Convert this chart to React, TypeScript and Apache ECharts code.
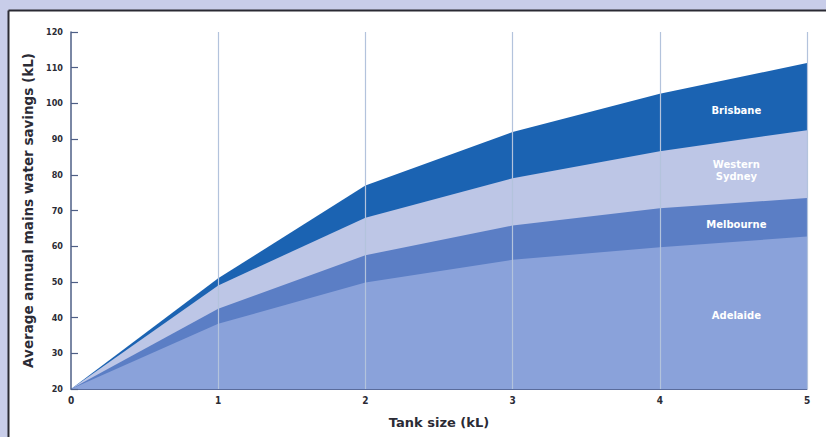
import React, { useEffect, useRef } from "react";
import * as echarts from "echarts";

const tankSizes = [0, 1, 2, 3, 4, 5];
const brisbane = [20, 51, 77, 92, 102.7, 111.3];
const westernSydney = [20, 49, 68, 79, 86.6, 92.5];
const melbourne = [20, 42.5, 57.5, 65.8, 70.6, 73.5];
const adelaide = [20, 38.3, 49.8, 56.2, 59.7, 62.7];
const yTicks = [20, 30, 40, 50, 60, 70, 80, 90, 100, 110, 120];

const seriesNames = ["Brisbane", "Western\nSydney", "Melbourne", "Adelaide"];
const seriesValues = [brisbane, westernSydney, melbourne, adelaide];
const seriesColors = ["#1b63b2", "#bdc6e6", "#5b7ec5", "#8aa2da"];
const labelPos = [4.52, 4.52, 4.52, 4.52];
const labelVal = [98, 81.2, 66, 40.5];

const WIDE = "'DejaVu Sans', 'Liberation Sans', sans-serif";
const NARROW = "'DejaVu Sans Condensed', 'DejaVu Sans', sans-serif";

export default function App() {
  const ref = useRef<HTMLDivElement>(null);
  useEffect(() => {
    if (!ref.current) return;
    const chart = echarts.init(ref.current, undefined, { renderer: "svg" });
    chart.setOption({
      animation: false,
      backgroundColor: "#c8cde9",
      graphic: [
        { type: "rect", z: -10, shape: { x: 9, y: 11, width: 830, height: 440 }, style: { fill: "#ffffff" } },
        { type: "line", z: -9, shape: { x1: 8.5, y1: 10.5, x2: 830, y2: 10.5 }, style: { stroke: "#2a2a33", lineWidth: 2 } },
        { type: "line", z: -9, shape: { x1: 8.5, y1: 10.5, x2: 8.5, y2: 440 }, style: { stroke: "#2a2a33", lineWidth: 2 } },
      ],
      grid: { left: 71, right: 19, top: 32, bottom: 48 },
      xAxis: {
        type: "value",
        min: 0,
        max: 5,
        interval: 1,
        z: 10,
        name: "Tank size (kL)",
        nameLocation: "middle",
        nameGap: 27,
        nameTextStyle: { fontFamily: WIDE, fontWeight: "bold", fontSize: 13, color: "#2b2b35" },
        axisLine: { show: true, lineStyle: { color: "#5a6c9c", width: 1 } },
        axisTick: { show: false },
        axisLabel: { fontFamily: NARROW, fontWeight: "bold", fontSize: 10, color: "#2b2b35", margin: 6 },
        splitLine: { show: true, showMinLine: false, lineStyle: { color: "#b3c3dc", width: 1.2 } },
      },
      yAxis: {
        type: "value",
        min: 20,
        max: 120,
        interval: 10,
        z: 11,
        name: "Average annual mains water savings (kL)",
        nameLocation: "middle",
        nameGap: 33,
        nameRotate: 90,
        nameTextStyle: { fontFamily: WIDE, fontWeight: "bold", fontSize: 13.5, color: "#2b2b35" },
        axisLine: { show: true, lineStyle: { color: "#4e5f86", width: 1.5 } },
        axisTick: { show: true, inside: true, length: 7, lineStyle: { color: "#4e5f86", width: 1.2 } },
        axisLabel: {
          fontFamily: NARROW,
          fontWeight: "bold",
          fontSize: 9,
          color: "#2b2b35",
          margin: 8,
          formatter: (v: number) => (yTicks.includes(v) ? String(v) : ""),
        },
        splitLine: { show: false },
      },
      series: seriesValues.map((vals, i) => ({
        type: "line",
        name: seriesNames[i],
        z: 2 + i,
        data: tankSizes.map((x, j) => [x, vals[j]]),
        symbol: "none",
        lineStyle: { width: 0 },
        areaStyle: { color: seriesColors[i], opacity: 1, origin: "start" },
        markPoint: {
          symbol: "circle",
          symbolSize: 1,
          itemStyle: { color: "rgba(0,0,0,0)" },
          label: {
            show: true,
            position: "inside",
            formatter: seriesNames[i],
            color: "#ffffff",
            fontFamily: WIDE,
            fontWeight: "bold",
            fontSize: 10,
            lineHeight: 12,
            align: "center",
          },
          data: [{ coord: [labelPos[i], labelVal[i]] }],
        },
      })),
    });
    return () => chart.dispose();
  }, []);
  return <div ref={ref} style={{ position: "fixed", left: 0, top: 0, width: 826, height: 437 }} />;
}
